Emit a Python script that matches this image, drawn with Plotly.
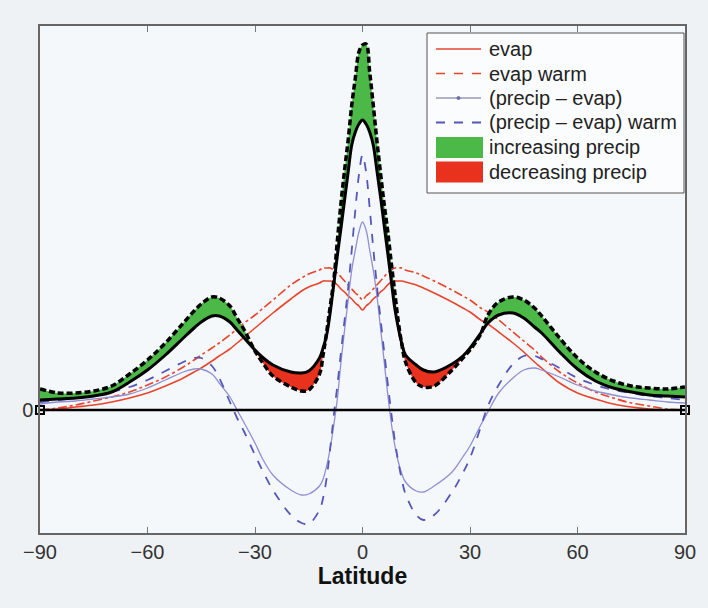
import numpy as np
import plotly.graph_objects as go

lat = [-90, -85, -80, -75, -70, -65, -60, -55, -50, -47, -45, -42, -40, -37, -35, -33, -30, -28, -25,
       -20, -17, -15, -12, -11, -10, -9, -8, -7, -6, -5, -4, -3, -2, -1, 0,
       1, 2, 3, 4, 5, 6, 7, 8, 9, 10, 11, 12, 15, 17, 20, 25, 28, 30, 33, 35, 38, 42,
       45, 48, 50, 55, 60, 65, 70, 75, 80, 85, 90]

evap = [0.00, 0.01, 0.03, 0.05, 0.08, 0.12, 0.17, 0.24, 0.32, 0.38, 0.42, 0.49, 0.54, 0.61, 0.67, 0.73, 0.82, 0.88, 0.97,
        1.11, 1.19, 1.23, 1.27, 1.29, 1.29, 1.29, 1.28, 1.25, 1.21, 1.18, 1.14, 1.11, 1.07, 1.04, 1.00,
        1.04, 1.07, 1.11, 1.14, 1.18, 1.21, 1.25, 1.28, 1.29, 1.29, 1.29, 1.28, 1.25, 1.22, 1.17, 1.08, 1.02, 0.98, 0.90, 0.86, 0.78, 0.67,
        0.58, 0.48, 0.42, 0.27, 0.17, 0.11, 0.06, 0.03, 0.01, 0.00, 0.00]

evap_warm = [0.00, 0.02, 0.05, 0.09, 0.13, 0.18, 0.25, 0.33, 0.43, 0.50, 0.55, 0.62, 0.67, 0.75, 0.81, 0.87, 0.95, 1.01, 1.10,
             1.25, 1.32, 1.36, 1.40, 1.42, 1.42, 1.42, 1.40, 1.37, 1.33, 1.29, 1.25, 1.21, 1.17, 1.14, 1.10,
             1.14, 1.17, 1.21, 1.25, 1.29, 1.33, 1.37, 1.40, 1.42, 1.42, 1.42, 1.40, 1.37, 1.34, 1.29, 1.20, 1.14, 1.10, 1.02, 0.98, 0.90, 0.78,
             0.69, 0.60, 0.53, 0.38, 0.27, 0.18, 0.12, 0.07, 0.04, 0.01, 0.00]

p_minus_e = [0.06, 0.08, 0.09, 0.11, 0.13, 0.16, 0.22, 0.30, 0.38, 0.41, 0.41, 0.36, 0.27, 0.13, 0.00, -0.13, -0.33, -0.48, -0.65,
             -0.80, -0.85, -0.84, -0.76, -0.69, -0.56, -0.38, -0.15, 0.12, 0.48, 0.80, 1.10, 1.40, 1.60, 1.78, 1.88,
             1.80, 1.60, 1.40, 1.15, 0.83, 0.50, 0.17, -0.12, -0.35, -0.52, -0.64, -0.72, -0.81, -0.82, -0.76, -0.62, -0.47, -0.36, -0.15, -0.02, 0.17, 0.32,
             0.40, 0.42, 0.40, 0.33, 0.25, 0.19, 0.15, 0.12, 0.10, 0.08, 0.07]

p_minus_e_warm = [0.08, 0.10, 0.12, 0.15, 0.18, 0.23, 0.30, 0.39, 0.48, 0.52, 0.52, 0.44, 0.32, 0.08, -0.08, -0.22, -0.45, -0.60, -0.80,
                  -1.05, -1.13, -1.14, -1.00, -0.88, -0.68, -0.38, -0.05, 0.25, 0.58, 0.90, 1.22, 1.60, 2.00, 2.35, 2.55,
                  2.38, 2.02, 1.62, 1.25, 0.92, 0.60, 0.28, -0.02, -0.30, -0.52, -0.70, -0.84, -1.05, -1.10, -1.05, -0.82, -0.63, -0.48, -0.17, 0.04, 0.25, 0.46,
                  0.54, 0.54, 0.51, 0.42, 0.32, 0.25, 0.20, 0.17, 0.14, 0.12, 0.10]

precip = [0.10, 0.11, 0.12, 0.14, 0.18, 0.28, 0.40, 0.55, 0.72, 0.82, 0.88, 0.94, 0.94, 0.88, 0.80, 0.72, 0.60, 0.53, 0.45,
          0.38, 0.37, 0.39, 0.52, 0.62, 0.75, 0.98, 1.26, 1.55, 1.82, 2.10, 2.38, 2.65, 2.78, 2.86, 2.90,
          2.86, 2.78, 2.65, 2.40, 2.14, 1.86, 1.58, 1.30, 1.02, 0.82, 0.66, 0.55, 0.45, 0.40, 0.38, 0.46, 0.54, 0.62, 0.77, 0.87, 0.95, 0.97,
          0.92, 0.83, 0.77, 0.58, 0.41, 0.29, 0.22, 0.18, 0.15, 0.14, 0.13]

precip_warm = [0.21, 0.17, 0.17, 0.19, 0.24, 0.36, 0.50, 0.67, 0.87, 0.99, 1.06, 1.13, 1.12, 1.04, 0.92, 0.80, 0.59, 0.48, 0.34,
               0.23, 0.19, 0.20, 0.36, 0.55, 0.78, 1.04, 1.30, 1.70, 2.07, 2.40, 2.70, 3.05, 3.32, 3.58, 3.65,
               3.66, 3.38, 3.05, 2.70, 2.38, 2.07, 1.80, 1.48, 1.18, 0.88, 0.65, 0.48, 0.27, 0.23, 0.24, 0.40, 0.52, 0.60, 0.76, 0.95, 1.08, 1.13,
               1.10, 1.02, 0.94, 0.72, 0.52, 0.38, 0.29, 0.24, 0.22, 0.21, 0.23]

x_ticks = [-90, -60, -30, 0, 30, 60, 90]
x_tick_labels = ["\u221290", "\u221260", "\u221230", "0", "30", "60", "90"]

legend_labels = ["evap", "evap warm", "(precip \u2013 evap)", "(precip \u2013 evap) warm",
                 "increasing precip", "decreasing precip"]

P = np.array(precip)
Pw = np.array(precip_warm)
upper = np.maximum(P, Pw)
lower = np.minimum(P, Pw)

RED = "#e8452f"
GREEN = "#4cb848"
FILLRED = "#e8321e"
BLUE_LIGHT = "#8f8fd2"
BLUE_DARK = "#5656b8"
FONT = "Liberation Sans, Arial, sans-serif"

W, H = 708, 608
ML, MR, MT, MB = 40, 23, 26, 75
PW_, PH_ = W - ML - MR, H - MT - MB

fig = go.Figure()

fig.add_trace(go.Scatter(x=lat, y=evap, mode="lines", name=legend_labels[0],
                         line=dict(color=RED, width=1.6, shape="spline")))
fig.add_trace(go.Scatter(x=lat, y=evap_warm, mode="lines", name=legend_labels[1],
                         line=dict(color=RED, width=1.6, dash="dashdot", shape="spline")))
fig.add_trace(go.Scatter(x=lat, y=p_minus_e, mode="lines", name=legend_labels[2],
                         line=dict(color=BLUE_LIGHT, width=1.3, shape="spline")))
fig.add_trace(go.Scatter(x=lat, y=p_minus_e_warm, mode="lines", name=legend_labels[3],
                         line=dict(color=BLUE_DARK, width=1.8, dash="dash", shape="spline")))

# fills between precip and warm precip
fig.add_trace(go.Scatter(x=lat, y=P, mode="lines", line=dict(width=0, shape="spline"), hoverinfo="skip"))
fig.add_trace(go.Scatter(x=lat, y=upper, mode="none", line=dict(shape="spline"),
                         fill="tonexty", fillcolor=GREEN, name=legend_labels[4]))
fig.add_trace(go.Scatter(x=lat, y=P, mode="lines", line=dict(width=0, shape="spline"), hoverinfo="skip"))
fig.add_trace(go.Scatter(x=lat, y=lower, mode="none", line=dict(shape="spline"),
                         fill="tonexty", fillcolor=FILLRED, name=legend_labels[5]))

fig.add_trace(go.Scatter(x=lat, y=precip, mode="lines",
                         line=dict(color="black", width=3, shape="spline")))
fig.add_trace(go.Scatter(x=lat, y=precip_warm, mode="lines",
                         line=dict(color="black", width=3.5, dash="6px,3px", shape="spline")))

fig.add_trace(go.Scatter(x=[-90, 90], y=[0, 0], mode="lines+markers", cliponaxis=False,
                         line=dict(color="black", width=2.5),
                         marker=dict(symbol="square-open", size=8, color="black", line=dict(width=2))))


# ---- manual legend (layout only), positioned in pixels of the page ----
def px(xp):
    return (xp - ML) / PW_


def py(yp):
    return (H - MB - yp) / PH_


shapes = []
annotations = []
box_l, box_r, box_t, box_b = 427, 684, 33, 193
shapes.append(dict(type="rect", xref="paper", yref="paper", x0=px(box_l), x1=px(box_r),
                   y0=py(box_b), y1=py(box_t), line=dict(color="#555", width=1),
                   fillcolor="#fbfcfd", layer="above"))
row_y = [49, 73.5, 98, 122.5, 147, 171.5]
sym_l, sym_r, text_x = 436, 481, 487
line_styles = [(RED, "solid", 1.6), (RED, "dash", 1.6), ("#9a9ab8", "solid", 1.3), (BLUE_DARK, "dash", 1.8)]
for i, (col, dash, wd) in enumerate(line_styles):
    shapes.append(dict(type="line", xref="paper", yref="paper", x0=px(sym_l), x1=px(sym_r),
                       y0=py(row_y[i]), y1=py(row_y[i]), line=dict(color=col, width=wd, dash=dash),
                       layer="above"))
# marker dot for (precip - evap)
shapes.append(dict(type="circle", xref="paper", yref="paper", x0=px(457), x1=px(460),
                   y0=py(row_y[2] + 1.5), y1=py(row_y[2] - 1.5), line=dict(color="#6a6aa8", width=1),
                   fillcolor="#6a6aa8", layer="above"))
for i, col in [(4, GREEN), (5, FILLRED)]:
    shapes.append(dict(type="rect", xref="paper", yref="paper", x0=px(sym_l), x1=px(sym_r + 2),
                       y0=py(row_y[i] + 11), y1=py(row_y[i] - 10), line=dict(width=0),
                       fillcolor=col, layer="above"))
for i, lab in enumerate(legend_labels):
    annotations.append(dict(text=lab, xref="paper", yref="paper", x=px(text_x), y=py(row_y[i]),
                            xanchor="left", yanchor="middle", showarrow=False,
                            font=dict(family=FONT, size=20, color="#222")))

fig.update_layout(
    width=W, height=H,
    margin=dict(l=ML, r=MR, t=MT, b=MB),
    paper_bgcolor="#eef2f5",
    plot_bgcolor="#f5f8fa",
    showlegend=False,
    font=dict(family=FONT, size=20, color="#333"),
    shapes=shapes,
    annotations=annotations,
    xaxis=dict(range=[-90, 90], tickvals=x_ticks, ticktext=x_tick_labels,
               ticks="inside", ticklen=6, tickcolor="#777", showline=True, linecolor="#666",
               linewidth=1.5, mirror="ticks", showgrid=False, zeroline=False,
               title=dict(text="<b>Latitude</b>", font=dict(family=FONT, size=23, color="#111"), standoff=4)),
    yaxis=dict(range=[-1.23, 3.84], tickvals=[0], ticktext=["0"], ticks="", showline=True,
               linecolor="#666", linewidth=1.5, mirror=True, showgrid=False, zeroline=False,
               ticklabelstandoff=1),
)

fig.write_html("out.html", config={"displayModeBar": False},
               post_script="document.body.style.margin='0';document.body.style.overflow='hidden';")
